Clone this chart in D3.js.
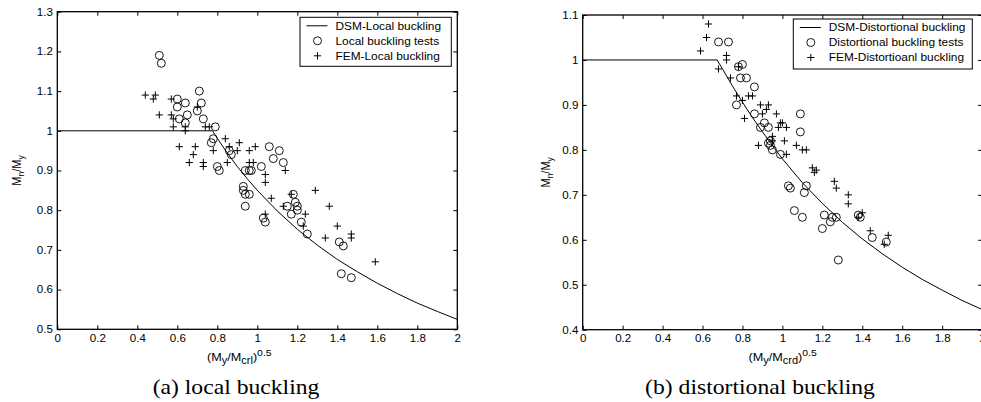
<!DOCTYPE html>
<html>
<head>
<meta charset="utf-8">
<script src="https://cdn.jsdelivr.net/npm/d3@7"></script>
<style>
  body { margin: 0; background: #fff; }
  svg { display: block; }
  text { font-family: "Liberation Sans", Arial, sans-serif; fill: #000; }
</style>
</head>
<body>
<svg id="chart" width="981" height="402"></svg>
<script>
// Tick values
const xTicks = [0, 0.2, 0.4, 0.6, 0.8, 1, 1.2, 1.4, 1.6, 1.8, 2];
const localYTicks = [0.5, 0.6, 0.7, 0.8, 0.9, 1, 1.1, 1.2, 1.3];
const distYTicks = [0.4, 0.5, 0.6, 0.7, 0.8, 0.9, 1, 1.1];

// DSM design curves
const dsmLocalX = [0, 0.776, 0.8, 0.85, 0.9, 0.95, 1.0, 1.1, 1.2, 1.3, 1.4, 1.5, 1.6, 1.7, 1.8, 1.9, 2.0];
const dsmLocalY = [1, 1, 0.981, 0.944, 0.910, 0.879, 0.850, 0.798, 0.752, 0.712, 0.676, 0.645, 0.616, 0.590, 0.566, 0.545, 0.525];
const dsmDistX = [0, 0.673, 0.7, 0.75, 0.8, 0.85, 0.9, 1.0, 1.1, 1.2, 1.3, 1.4, 1.5, 1.6, 1.7, 1.8, 1.9, 2.0];
const dsmDistY = [1, 1, 0.980, 0.942, 0.906, 0.872, 0.840, 0.780, 0.727, 0.681, 0.639, 0.602, 0.569, 0.539, 0.512, 0.488, 0.465, 0.445];

// (a) local buckling
const localTests = [
  [0.51, 1.19], [0.52, 1.17], [0.71, 1.10], [0.60, 1.08], [0.64, 1.07], [0.72, 1.07],
  [0.60, 1.06], [0.70, 1.05], [0.65, 1.04], [0.61, 1.03], [0.73, 1.03], [0.64, 1.02],
  [0.79, 1.01], [0.78, 0.98], [0.77, 0.97], [0.86, 0.95], [0.87, 0.94], [0.80, 0.91],
  [0.81, 0.90], [0.94, 0.90], [0.96, 0.90], [0.97, 0.90], [0.93, 0.86], [0.93, 0.85],
  [0.94, 0.84], [0.96, 0.84], [0.94, 0.81], [1.06, 0.96], [1.11, 0.95], [1.08, 0.93],
  [1.13, 0.92], [1.02, 0.91], [1.03, 0.78], [1.04, 0.77], [1.18, 0.84], [1.19, 0.82],
  [1.15, 0.81], [1.20, 0.81], [1.20, 0.80], [1.17, 0.79], [1.22, 0.77], [1.25, 0.74],
  [1.41, 0.72], [1.43, 0.71], [1.42, 0.64], [1.47, 0.63]
];
const localFem = [
  [0.44, 1.09], [0.49, 1.09], [0.48, 1.08], [0.57, 1.08], [0.51, 1.04], [0.57, 1.04],
  [0.58, 1.03], [0.58, 1.01], [0.64, 1.01], [0.64, 1.00], [0.70, 1.06], [0.74, 1.01],
  [0.76, 1.01], [0.61, 0.96], [0.69, 0.96], [0.68, 0.94], [0.66, 0.92], [0.73, 0.92],
  [0.73, 0.91], [0.78, 0.95], [0.84, 0.98], [0.85, 0.92], [0.86, 0.96], [0.91, 0.97],
  [0.90, 0.95], [0.96, 0.95], [0.96, 0.92], [0.99, 0.96], [0.98, 0.92], [1.04, 0.89],
  [1.04, 0.87], [1.14, 0.90], [1.07, 0.83], [1.17, 0.84], [1.29, 0.85], [1.13, 0.81],
  [1.24, 0.79], [1.23, 0.76], [1.36, 0.81], [1.04, 0.79], [1.40, 0.76], [1.34, 0.73],
  [1.47, 0.74], [1.47, 0.73], [1.59, 0.67]
];

// (b) distortional buckling
const distTests = [
  [0.68, 1.04], [0.73, 1.04], [0.80, 0.99], [0.78, 0.985], [0.79, 0.96], [0.82, 0.96],
  [0.86, 0.94], [0.77, 0.90], [0.86, 0.88], [0.91, 0.86], [0.89, 0.85], [0.93, 0.85],
  [0.93, 0.815], [0.94, 0.81], [0.94, 0.82], [0.95, 0.80], [0.99, 0.79], [1.09, 0.88],
  [1.09, 0.84], [1.03, 0.72], [1.04, 0.715], [1.06, 0.665], [1.12, 0.72], [1.11, 0.705],
  [1.10, 0.65], [1.21, 0.655], [1.25, 0.65], [1.27, 0.65], [1.24, 0.64], [1.20, 0.625],
  [1.38, 0.655], [1.39, 0.65], [1.45, 0.605], [1.52, 0.595], [1.28, 0.555]
];
const distFem = [
  [0.63, 1.08], [0.62, 1.05], [0.59, 1.02], [0.72, 1.01], [0.72, 1.00], [0.68, 0.98],
  [0.78, 0.985], [0.74, 0.96], [0.77, 0.92], [0.80, 0.91], [0.83, 0.92], [0.85, 0.92],
  [0.81, 0.87], [0.89, 0.90], [0.93, 0.90], [0.92, 0.89], [0.90, 0.88], [0.97, 0.88],
  [0.99, 0.86], [1.00, 0.86], [1.02, 0.85], [0.98, 0.85], [0.95, 0.83], [1.01, 0.82],
  [0.88, 0.81], [1.07, 0.81], [1.10, 0.80], [1.12, 0.80], [1.02, 0.79], [0.95, 0.82],
  [1.15, 0.76], [1.17, 0.755], [1.16, 0.75], [1.26, 0.73], [1.27, 0.715], [1.33, 0.70],
  [1.33, 0.68], [1.40, 0.66], [1.38, 0.65], [1.44, 0.62], [1.53, 0.61], [1.51, 0.59]
];

const SX = 1.1; // the source figure is slightly stretched horizontally
const fmt = d => String(+d.toFixed(1));
const svg = d3.select('#chart');

function stretched(sel, x, y) {
  return sel.attr('transform', `translate(${x},${y}) scale(${SX},1)`);
}

function drawPanel(p) {
  const x = d3.scaleLinear().domain([0, 2]).range([p.left, p.right]);
  const y = d3.scaleLinear().domain(p.yDomain).range([p.bottom, p.top]);
  const g = svg.append('g');

  // DSM curve
  g.append('path')
    .datum(d3.zip(p.curveX, p.curveY))
    .attr('d', d3.line().x(d => x(d[0])).y(d => y(d[1])))
    .attr('fill', 'none')
    .attr('stroke', '#000')
    .attr('stroke-width', 1);

  // test points
  g.append('g').selectAll('circle')
    .data(p.tests)
    .join('circle')
    .attr('cx', d => x(d[0]))
    .attr('cy', d => y(d[1]))
    .attr('r', 4)
    .attr('fill', 'none')
    .attr('stroke', '#000')
    .attr('stroke-width', 0.9);

  // FEM points
  g.append('g').selectAll('path')
    .data(p.fem)
    .join('path')
    .attr('d', d => `M${x(d[0]) - 3.6},${y(d[1])}h7.2M${x(d[0])},${y(d[1]) - 3.6}v7.2`)
    .attr('stroke', '#000')
    .attr('stroke-width', 1);

  // axes, ticks inward on all four sides
  const styleAxis = a => {
    a.select('.domain').remove();
    a.attr('font-family', '"Liberation Sans", Arial, sans-serif').attr('font-size', 10.5);
    a.selectAll('line').attr('stroke', '#000');
    a.selectAll('text').attr('transform', `scale(${SX},1)`);
  };
  g.append('g').attr('transform', `translate(0,${p.bottom})`)
    .call(d3.axisBottom(x).tickValues(xTicks).tickSize(-4).tickPadding(5).tickFormat(fmt))
    .call(styleAxis);
  g.append('g').attr('transform', `translate(0,${p.top})`)
    .call(d3.axisTop(x).tickValues(xTicks).tickSize(-4).tickFormat(''))
    .call(styleAxis);
  g.append('g').attr('transform', `translate(${p.left},0)`)
    .call(d3.axisLeft(y).tickValues(p.yTicks).tickSize(-4).tickPadding(4).tickFormat(fmt))
    .call(styleAxis);
  g.append('g').attr('transform', `translate(${p.right},0)`)
    .call(d3.axisRight(y).tickValues(p.yTicks).tickSize(-4).tickFormat(''))
    .call(styleAxis);

  g.append('rect')
    .attr('x', p.left).attr('y', p.top)
    .attr('width', p.right - p.left).attr('height', p.bottom - p.top)
    .attr('fill', 'none').attr('stroke', '#000').attr('stroke-width', 1.3);

  // legend
  const lx = p.right - p.legendRight - p.legendW;
  const ly = p.top + p.legendTop;
  const lg = g.append('g').attr('transform', `translate(${lx},${ly})`);
  lg.append('rect').attr('width', p.legendW).attr('height', p.legendH)
    .attr('fill', '#fff').attr('stroke', '#000').attr('stroke-width', 1);
  const rows = [8.5, 23.5, 38.5];
  lg.append('line').attr('x1', 6.5).attr('x2', 27.5).attr('y1', rows[0]).attr('y2', rows[0])
    .attr('stroke', '#000');
  lg.append('circle').attr('cx', 17.5).attr('cy', rows[1]).attr('r', 4)
    .attr('fill', 'none').attr('stroke', '#000').attr('stroke-width', 0.9);
  lg.append('path').attr('d', `M13.9,${rows[2]}h7.2M17.5,${rows[2] - 3.6}v7.2`).attr('stroke', '#000');
  p.legend.forEach((t, i) => {
    stretched(lg.append('text'), 35.5, rows[i] + 3.8).attr('font-size', 10.8).text(t);
  });

  // y label
  const yl = g.append('text').attr('font-size', 11)
    .attr('text-anchor', 'middle')
    .attr('transform', `translate(${p.yLabelX},${(p.top + p.bottom) / 2}) scale(${SX},1) rotate(-90)`);
  yl.append('tspan').text('M');
  yl.append('tspan').attr('dy', 3).attr('font-size', 8.5).text('n');
  yl.append('tspan').attr('dy', -3).text('/M');
  yl.append('tspan').attr('dy', 3).attr('font-size', 8.5).text('y');

  // x label
  const xl = stretched(g.append('text'), p.xLabelX, 361).attr('font-size', 11.5);
  xl.append('tspan').text('(M');
  xl.append('tspan').attr('dy', 3).attr('font-size', 10).text('y');
  xl.append('tspan').attr('dy', -3).text('/M');
  xl.append('tspan').attr('dy', 3).attr('font-size', 10).text(p.crSub);
  xl.append('tspan').attr('dy', -3).text(')');
  xl.append('tspan').attr('dy', -5.5).attr('font-size', 9.5).text('0.5');

  // caption
  stretched(svg.append('text'), p.captionX, 394)
    .attr('text-anchor', 'middle')
    .style('font-family', '"Liberation Serif", "Times New Roman", serif')
    .attr('font-size', 21.5)
    .text(p.caption);
}

drawPanel({
  left: 57.3, right: 457.3, top: 11.7, bottom: 329.3,
  yDomain: [0.5, 1.3], yTicks: localYTicks,
  curveX: dsmLocalX, curveY: dsmLocalY,
  tests: localTests, fem: localFem,
  legend: ['DSM-Local buckling', 'Local buckling tests', 'FEM-Local buckling'],
  legendW: 151.3, legendH: 49, legendRight: 6, legendTop: 5.6,
  yLabelX: 21, xLabelX: 207, crSub: 'crl',
  caption: '(a) local buckling', captionX: 236
});

drawPanel({
  left: 582.7, right: 982.1, top: 15, bottom: 329.7,
  yDomain: [0.4, 1.1], yTicks: distYTicks,
  curveX: dsmDistX, curveY: dsmDistY,
  tests: distTests, fem: distFem,
  legend: ['DSM-Distortional buckling', 'Distortional buckling tests', 'FEM-Distortioanl buckling'],
  legendW: 179, legendH: 50, legendRight: 9.8, legendTop: 4,
  yLabelX: 550, xLabelX: 748.5, crSub: 'crd',
  caption: '(b) distortional buckling', captionX: 760
});
</script>
</body>
</html>
